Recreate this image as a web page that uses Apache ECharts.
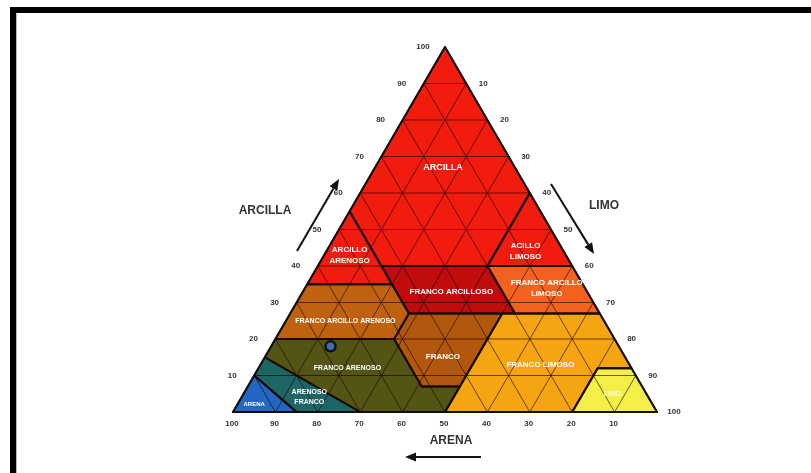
<!DOCTYPE html>
<html>
<head>
<meta charset="utf-8">
<script src="https://cdn.jsdelivr.net/npm/echarts@6/dist/echarts.min.js"></script>
<style>
html,body{margin:0;padding:0;background:#fff;}
#chart{width:811px;height:473px;}
</style>
</head>
<body>
<div id="chart"></div>
<script>
// Soil texture triangle. Compositions are [arena, limo, arcilla] in percent.
const arenaTicks = [100, 90, 80, 70, 60, 50, 40, 30, 20, 10];
const arcillaTicks = [10, 20, 30, 40, 50, 60, 70, 80, 90, 100];
const limoTicks = [10, 20, 30, 40, 50, 60, 70, 80, 90, 100];
const gridSteps = [10, 20, 30, 40, 50, 60, 70, 80, 90];

const classNames = [
  'ARCILLA', 'ARCILLO\nARENOSO', 'ACILLO\nLIMOSO', 'FRANCO ARCILLOSO',
  'FRANCO ARCILLO\nLIMOSO', 'FRANCO ARCILLO ARENOSO', 'FRANCO', 'FRANCO LIMOSO',
  'LIMO', 'FRANCO ARENOSO', 'ARENOSO\nFRANCO', 'ARENA'
];
const classVertices = [
  [[0, 0, 100], [0, 40, 60], [20, 40, 40], [45, 15, 40], [45, 0, 55]],
  [[45, 0, 55], [45, 20, 35], [65, 0, 35]],
  [[0, 40, 60], [0, 60, 40], [20, 40, 40]],
  [[45, 15, 40], [20, 40, 40], [20, 53, 27], [45, 28, 27]],
  [[20, 40, 40], [0, 60, 40], [0, 73, 27], [20, 53, 27]],
  [[65, 0, 35], [45, 20, 35], [45, 28, 27], [52, 28, 20], [80, 0, 20]],
  [[45, 28, 27], [23, 50, 27], [43, 50, 7], [52, 41, 7], [52, 28, 20]],
  [[23, 50, 27], [0, 73, 27], [0, 88, 12], [8, 80, 12], [20, 80, 0], [50, 50, 0], [43, 50, 7]],
  [[0, 88, 12], [0, 100, 0], [20, 80, 0], [8, 80, 12]],
  [[80, 0, 20], [52, 28, 20], [52, 41, 7], [43, 50, 7], [50, 50, 0], [70, 30, 0], [85, 0, 15]],
  [[85, 0, 15], [70, 30, 0], [85, 15, 0], [90, 0, 10]],
  [[90, 0, 10], [85, 15, 0], [100, 0, 0]]
];
// where each class name sits inside its field
const classLabelAt = [
  [17, 16, 67], [51, 6, 43], [9, 47, 44], [32, 35, 33], [9, 57, 34], [61, 14, 25],
  [43, 42, 15], [21, 66, 13], [8, 87, 5], [67, 21, 12], [80, 16, 4], [94, 4, 2]
];
const samplePoint = [68, 14, 18];

// styling
const classColors = [
  '#F21C0E', '#F21C0E', '#F21C0E', '#C00C0C', '#F2621E', '#BF6210',
  '#B2580E', '#F5A512', '#F3EF48', '#545414', '#1E6666', '#2466C2'
];
const classFont = [9, 8, 8, 8, 8, 7, 8, 8, 7, 7, 7, 6];
const FONT = '"Liberation Sans", Arial, sans-serif';

// ternary composition -> cartesian (x along the base, y = arcilla)
function toXY(v) { return [v[1] + v[2] / 2, v[2]]; }

const chart = echarts.init(document.getElementById('chart'), null, { renderer: 'canvas' });

const fieldSeries = {
  type: 'custom', coordinateSystem: 'cartesian2d', clip: false, z: 1,
  data: classNames.map((n, i) => [i]),
  renderItem: (params, api) => {
    const i = api.value(0);
    return {
      type: 'polygon',
      shape: { points: classVertices[i].map(v => api.coord(toXY(v))) },
      style: { fill: classColors[i], stroke: classColors[i], lineWidth: 0.5 }
    };
  }
};

const gridSeries = {
  type: 'custom', coordinateSystem: 'cartesian2d', clip: false, z: 2,
  data: gridSteps.map(k => [k]),
  renderItem: (params, api) => {
    const k = api.value(0);
    const seg = (a, b) => ({
      type: 'line',
      shape: (() => { const p = api.coord(toXY(a)), q = api.coord(toXY(b)); return { x1: p[0], y1: p[1], x2: q[0], y2: q[1] }; })(),
      style: { stroke: 'rgba(20,0,0,0.62)', lineWidth: 1 }
    });
    return {
      type: 'group',
      children: [
        seg([100 - k, 0, k], [0, 100 - k, k]),
        seg([k, 100 - k, 0], [k, 0, 100 - k]),
        seg([100 - k, k, 0], [0, k, 100 - k])
      ]
    };
  }
};

const boundarySeries = {
  type: 'custom', coordinateSystem: 'cartesian2d', clip: false, z: 3,
  data: classNames.map((n, i) => [i]),
  renderItem: (params, api) => {
    const i = api.value(0);
    return {
      type: 'polygon',
      shape: { points: classVertices[i].map(v => api.coord(toXY(v))) },
      style: { fill: 'none', stroke: '#1a0a05', lineWidth: 2, lineJoin: 'round' }
    };
  }
};

const outlineSeries = {
  type: 'custom', coordinateSystem: 'cartesian2d', clip: false, z: 4,
  data: [[0]],
  renderItem: (params, api) => ({
    type: 'polygon',
    shape: { points: [[100, 0, 0], [0, 100, 0], [0, 0, 100]].map(v => api.coord(toXY(v))) },
    style: { fill: 'none', stroke: '#111', lineWidth: 1.6 }
  })
};

const classLabelSeries = {
  type: 'custom', coordinateSystem: 'cartesian2d', clip: false, z: 5,
  data: classNames.map((n, i) => [i]),
  renderItem: (params, api) => {
    const i = api.value(0);
    const p = api.coord(toXY(classLabelAt[i]));
    return {
      type: 'text', x: p[0], y: p[1],
      style: {
        text: classNames[i], fill: i === 8 ? 'rgba(255,255,235,0.85)' : '#fff',
        font: 'bold ' + classFont[i] + 'px ' + FONT,
        align: 'center', verticalAlign: 'middle', lineHeight: classFont[i] + 3
      }
    };
  }
};

const tickStyle = { fill: '#333', font: 'bold 8px ' + FONT, align: 'center', verticalAlign: 'middle' };
const tickSeries = {
  type: 'custom', coordinateSystem: 'cartesian2d', clip: false, z: 5,
  data: [[0]],
  renderItem: (params, api) => {
    const kids = [];
    arcillaTicks.forEach(k => {
      const p = api.coord(toXY([100 - k, 0, k]));
      kids.push({ type: 'text', x: p[0] - 22, y: p[1], style: Object.assign({ text: String(k) }, tickStyle) });
    });
    limoTicks.forEach(k => {
      const p = api.coord(toXY([0, k, 100 - k]));
      kids.push({ type: 'text', x: p[0] + 17, y: p[1], style: Object.assign({ text: String(k) }, tickStyle) });
    });
    arenaTicks.forEach(k => {
      const p = api.coord(toXY([k, 100 - k, 0]));
      kids.push({ type: 'text', x: p[0] - 1, y: p[1] + 12, style: Object.assign({ text: String(k) }, tickStyle) });
    });
    return { type: 'group', children: kids };
  }
};

const pointSeries = {
  type: 'scatter', z: 6,
  data: [toXY(samplePoint)],
  symbol: 'circle', symbolSize: 10,
  itemStyle: { color: '#3C72D8', borderColor: '#000', borderWidth: 2.5 },
  silent: true
};

function arrow(x1, y1, x2, y2) {
  const ang = Math.atan2(y2 - y1, x2 - x1);
  const len = 11, half = 4.5;
  const bx = x2 - len * Math.cos(ang), by = y2 - len * Math.sin(ang);
  const nx = -Math.sin(ang) * half, ny = Math.cos(ang) * half;
  return [
    { type: 'line', shape: { x1: x1, y1: y1, x2: bx, y2: by }, style: { stroke: '#111', lineWidth: 2 } },
    { type: 'polygon', shape: { points: [[x2, y2], [bx + nx, by + ny], [bx - nx, by - ny]] }, style: { fill: '#111' } }
  ];
}

const titleStyle = { fill: '#333', font: 'bold 12px ' + FONT, align: 'center', verticalAlign: 'middle' };

chart.setOption({
  animation: false,
  backgroundColor: '#fff',
  grid: { left: 233, right: 154, top: 47, bottom: 61 },
  xAxis: { type: 'value', min: 0, max: 100, show: false },
  yAxis: { type: 'value', min: 0, max: 100, show: false },
  graphic: [
    { type: 'rect', shape: { x: 11, y: 7, width: 800, height: 6 }, style: { fill: '#000' } },
    { type: 'rect', shape: { x: 10, y: 7, width: 6, height: 466 }, style: { fill: '#000' } },
    { type: 'rect', shape: { x: 16, y: 13, width: 1, height: 460 }, style: { fill: '#bbb' } },
    { type: 'text', x: 265, y: 211, style: Object.assign({ text: 'ARCILLA' }, titleStyle) },
    { type: 'text', x: 604, y: 206, style: Object.assign({ text: 'LIMO' }, titleStyle) },
    { type: 'text', x: 451, y: 441, style: Object.assign({ text: 'ARENA' }, titleStyle) }
  ].concat(arrow(297, 251, 339, 179), arrow(551, 184, 594, 254), arrow(481, 457, 405, 457)),
  series: [fieldSeries, gridSeries, boundarySeries, outlineSeries, classLabelSeries, tickSeries, pointSeries]
});
</script>
</body>
</html>
